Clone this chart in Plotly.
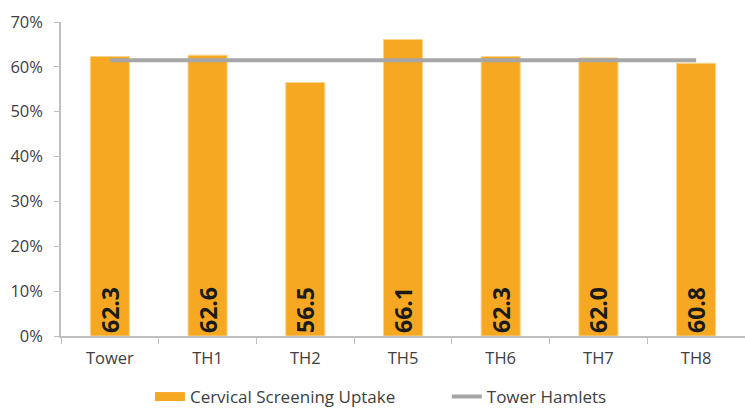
import plotly.graph_objects as go

categories = ["Tower", "TH1", "TH2", "TH5", "TH6", "TH7", "TH8"]
uptake = [62.3, 62.6, 56.5, 66.1, 62.3, 62.0, 60.8]
borough_avg = [61.5] * len(categories)

font_family = "'Open Sans', Lato, sans-serif"
bar_color = "#F6A823"
line_color = "#A6A6A6"

fig = go.Figure()
fig.add_trace(go.Bar(
    x=categories,
    y=uptake,
    name="Cervical Screening Uptake",
    showlegend=False,
    marker=dict(color=bar_color, line=dict(color="#FBD48A", width=1)),
    text=[f"{v:.1f}" for v in uptake],
    textposition="inside",
    insidetextanchor="start",
    textangle=-90,
    constraintext="none",
    textfont=dict(family=font_family, size=23, color="#1a1a1a", weight="bold"),
    hoverinfo="skip",
))
# legend entry drawn as a wide swatch
fig.add_trace(go.Scatter(
    x=[None], y=[None],
    name="Cervical Screening Uptake",
    mode="lines",
    line=dict(color=bar_color, width=9),
    hoverinfo="skip",
    legend="legend",
))
fig.add_trace(go.Scatter(
    x=categories,
    y=borough_avg,
    name="Tower Hamlets",
    mode="lines",
    line=dict(color=line_color, width=4),
    hoverinfo="skip",
    legend="legend2",
))

legend_style = dict(
    orientation="h",
    xanchor="left",
    y=-0.195,
    yanchor="middle",
    font=dict(size=17, color="#404040"),
    bgcolor="rgba(0,0,0,0)",
)

fig.update_layout(
    width=745,
    height=415,
    margin=dict(l=61, r=0, t=22, b=74),
    plot_bgcolor="white",
    paper_bgcolor="white",
    bargap=0.6,
    font=dict(family=font_family, size=16, color="#404040"),
    showlegend=True,
    legend=dict(x=0.130, **legend_style),
    legend2=dict(x=0.564, **legend_style),
    xaxis=dict(
        showline=True,
        linecolor="#BFBFBF",
        linewidth=1.5,
        ticks="outside",
        tickson="boundaries",
        ticklen=6,
        tickcolor="#BFBFBF",
        ticklabelstandoff=6,
        showgrid=False,
        tickfont=dict(size=16.5, color="#404040"),
    ),
    yaxis=dict(
        range=[0, 70],
        dtick=10,
        ticksuffix="%",
        showline=True,
        linecolor="#BFBFBF",
        linewidth=1.5,
        ticks="outside",
        ticklen=5,
        tickcolor="#BFBFBF",
        ticklabelstandoff=8,
        showgrid=False,
        zeroline=False,
        tickfont=dict(size=16.5, color="#404040"),
    ),
)

fig.write_html("out.html")
